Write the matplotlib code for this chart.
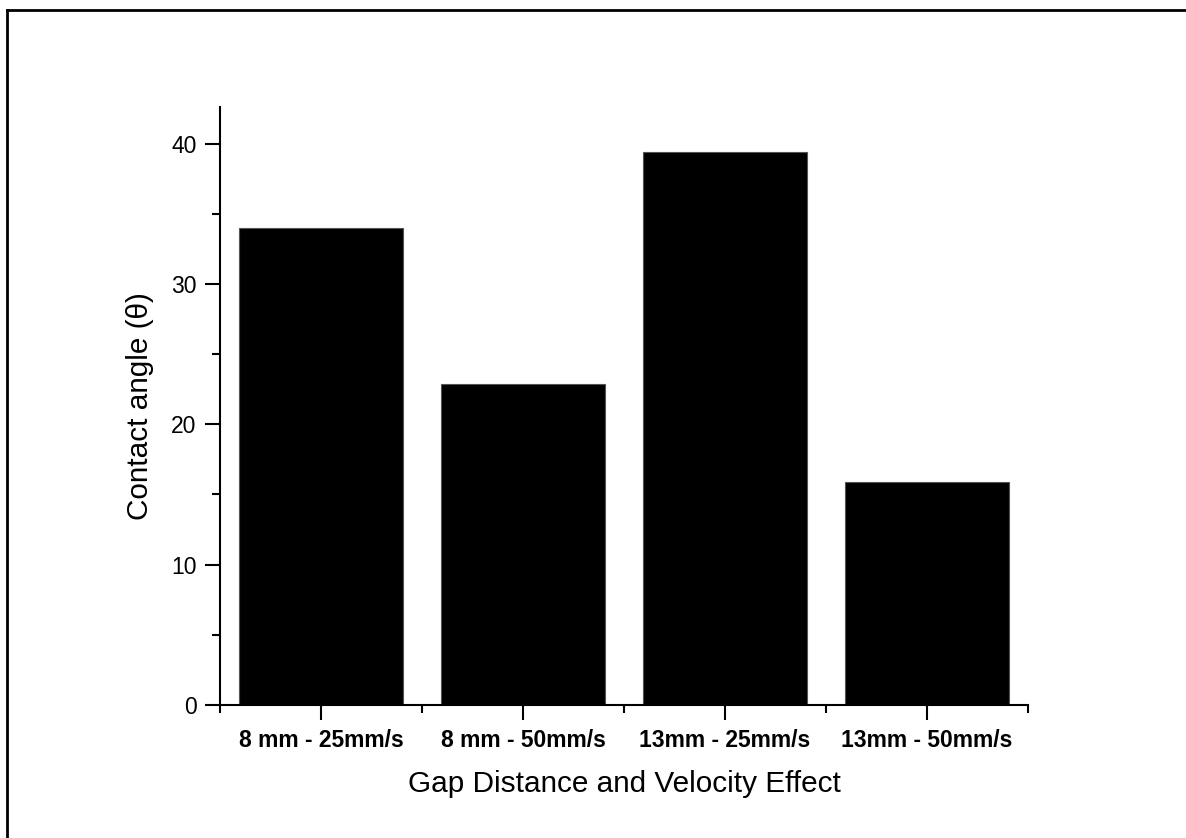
import matplotlib
matplotlib.use("Agg")
import matplotlib.pyplot as plt
from matplotlib.lines import Line2D
from matplotlib.ticker import MultipleLocator, FixedLocator

categories = ["8 mm - 25mm/s", "8 mm - 50mm/s", "13mm - 25mm/s", "13mm - 50mm/s"]
contact_angle = [34.0, 22.9, 39.4, 15.9]

plt.rcParams["font.family"] = ["Liberation Sans", "DejaVu Sans"]

fig = plt.figure(figsize=(11.86, 8.38), dpi=100)
ax = fig.add_axes([0.1855, 0.1587, 0.6813, 0.7136])

x = list(range(len(categories)))
ax.bar(x, contact_angle, width=0.81, color="black", edgecolor="#555555", linewidth=0.8)

ax.set_xlim(-0.5, 3.5)
ax.set_ylim(0, 42.6)
ax.spines["top"].set_visible(False)
ax.spines["right"].set_visible(False)
for s in ("left", "bottom"):
    ax.spines[s].set_linewidth(1.5)

ax.set_xticks(x)
ax.set_xticklabels(categories, fontsize=16.5, fontweight="bold")
ax.xaxis.set_minor_locator(FixedLocator([-0.5, 0.5, 1.5, 2.5, 3.5]))
ax.yaxis.set_major_locator(MultipleLocator(10))
ax.yaxis.set_minor_locator(MultipleLocator(5))
ax.tick_params(axis="both", which="major", length=11, width=1.5, direction="out")
ax.tick_params(axis="both", which="minor", length=6, width=1.5, direction="out")
ax.tick_params(axis="y", labelsize=16.5, pad=6)
ax.tick_params(axis="x", pad=6)

ax.set_xlabel("Gap Distance and Velocity Effect", fontsize=21.4, labelpad=13)
ax.set_ylabel("Contact angle (θ)", fontsize=21.4, labelpad=12)

# figure frame (left and top edges visible)
fig.add_artist(Line2D([7 / 1186, 7 / 1186], [0, 1 - 10 / 838], color="black", linewidth=2))
fig.add_artist(Line2D([7 / 1186, 1], [1 - 10 / 838, 1 - 10 / 838], color="black", linewidth=2))

fig.savefig("out.png", dpi=100)
